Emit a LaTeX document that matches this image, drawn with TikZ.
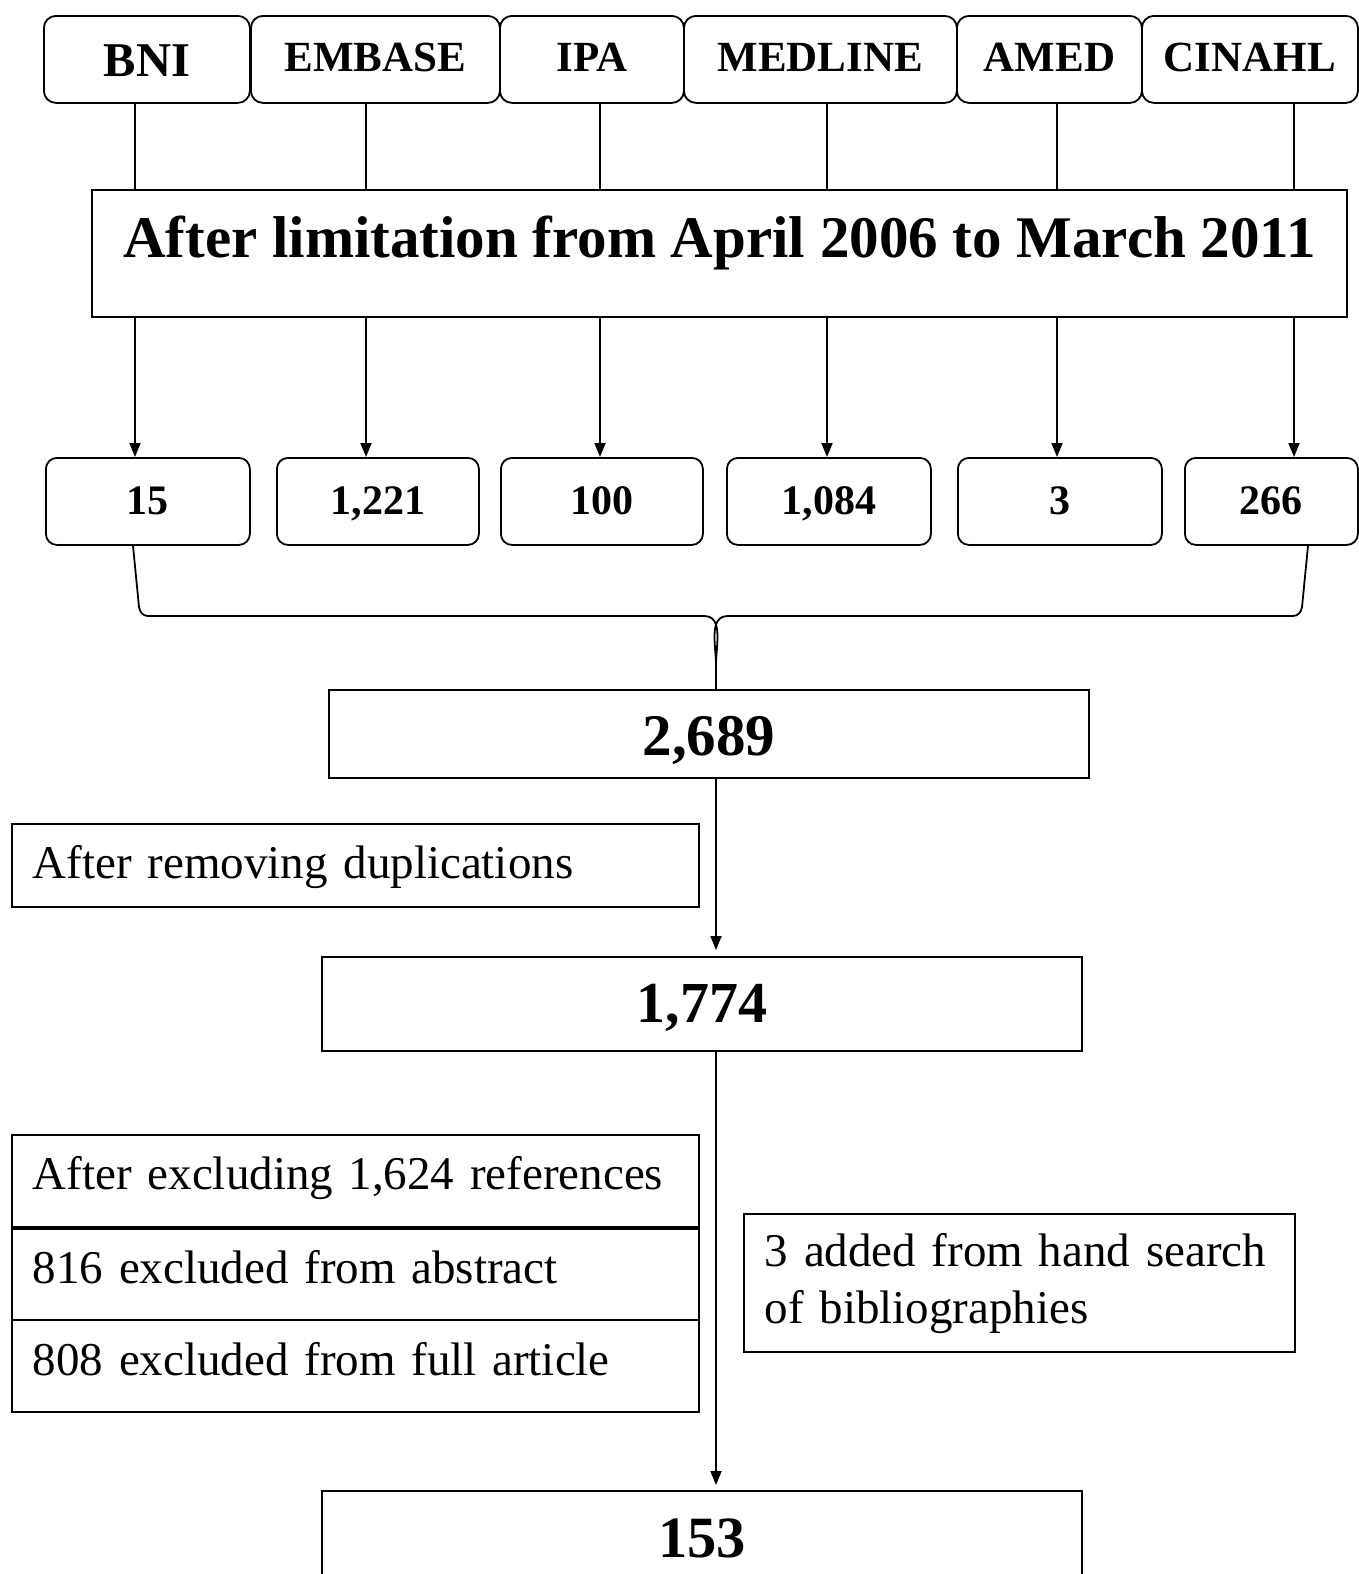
\documentclass[tikz,border=0pt]{standalone}
\usepackage{fontspec}
\setmainfont{Liberation Serif}
\usetikzlibrary{arrows.meta}

\begin{document}
\begin{tikzpicture}[x=1pt, y=-1pt,
	box/.style={draw, line width=1.8pt, inner sep=0pt, anchor=north west},
	src/.style={box, rounded corners=12pt, text height=56pt, text depth=31pt, font=\fontsize{43}{51}\selectfont\bfseries},
	num/.style={box, rounded corners=11pt, text height=57pt, text depth=30pt, font=\fontsize{42}{50}\selectfont\bfseries},
	total/.style={box, minimum width=760pt, font=\fontsize{59}{70}\selectfont\bfseries},
	note/.style={box, align=left, inner xsep=21pt, font=\fontsize{47}{57}\selectfont},
	conn/.style={line width=1.8pt},
	arr/.style={conn, -{Triangle[length=14pt,width=11pt]}}]
	\useasboundingbox (0,0) rectangle (1359,1574);
	\clip (0,0) rectangle (1359,1574);
 	 \node[src, minimum width=206pt, text height=61pt, text depth=26pt, font=\fontsize{48.5}{58}\selectfont\bfseries] (bni) at (43,15) {BNI};
 	 \node[src, minimum width=249pt] (embase) at (250,15) {EMBASE};
 	 \node[src, minimum width=184pt] (ipa) at (499,15) {IPA};
 	 \node[src, minimum width=273pt] (medline) at (683,15) {MEDLINE};
 	 \node[src, minimum width=185pt] (amed) at (956,15) {AMED};
 	 \node[src, minimum width=216pt] (cinahl) at (1141,15) {CINAHL};
 	 \node[box, minimum width=1255pt, text height=68pt, text depth=59pt, font=\fontsize{59}{70}\selectfont\bfseries] (lim) at (91,189) {After limitation from April 2006 to March 2011};
    		\node[num, minimum width=204pt] (n1) at (45,457) {15};
    		\node[num, minimum width=202pt] (n2) at (276,457) {1,221};
    		\node[num, minimum width=202pt] (n3) at (500,457) {100};
    		\node[num, minimum width=204pt] (n4) at (726,457) {1,084};
    		\node[num, minimum width=204pt] (n5) at (957,457) {3};
    		\node[num, minimum width=173pt] (n6) at (1184,457) {266};
    		\node[total, text height=66pt, text depth=22pt] (sum) at (328,689) {2,689};
    		\node[note, text width=645pt, text height=55pt, text depth=28pt] (dup) at (11,823) {After removing duplications};
    		\node[total, text height=66pt, text depth=28pt, font=\fontsize{58}{68}\selectfont\bfseries] (uniq) at (321,956) {1,774};
    		\node[note, text width=645pt, text height=55pt, text depth=37pt] (excl) at (11,1134) {After excluding 1,624 references};
    		\node[note, text width=645pt, text height=55pt, text depth=36pt] (abst) at (11,1228) {816 excluded from abstract};
    		\node[note, text width=645pt, text height=56pt, text depth=36pt] (full) at (11,1319) {808 excluded from full article};
    		\node[note, text width=509pt, text height=53pt, text depth=85pt] (hand) at (743,1213) {3 added from hand search\\of bibliographies};
    		\node[total, text height=67pt, text depth=27pt, font=\fontsize{58.5}{68}\selectfont\bfseries] (fin) at (321,1490) {153};
	\coordinate (c1) at (135,0);
	\coordinate (c2) at (366,0);
	\coordinate (c3) at (600,0);
	\coordinate (c4) at (827,0);
	\coordinate (c5) at (1057,0);
	\coordinate (c6) at (1294,0);
	\coordinate (bl) at (133,0);
	\coordinate (br) at (1308,0);
	\coordinate (hub) at (716,665);
	\foreach \s/\n [count=\i] in {bni/n1, embase/n2, ipa/n3, medline/n4, amed/n5, cinahl/n6} {
		\draw[conn] (\s.south -| c\i) -- (lim.north -| c\i);
		\draw[arr] (lim.south -| c\i) -- (\n.north -| c\i);
	}
   	\draw[conn] (n1.south -| bl) -- (139,607) to[out=-82,in=180] (148,616) -- (704,616) to[out=0,in=90] (hub) -- (sum.north -| hub);
   	\draw[conn] (n6.south -| br) -- (1302,607) to[out=-98,in=0] (1293,616) -- (728,616) to[out=180,in=90] (hub);
   	\draw[arr, shorten >=6pt] (sum.south -| hub) -- (uniq.north -| hub);
   	\draw[arr, shorten >=5pt] (uniq.south -| hub) -- (fin.north -| hub);
\end{tikzpicture}
\end{document}
